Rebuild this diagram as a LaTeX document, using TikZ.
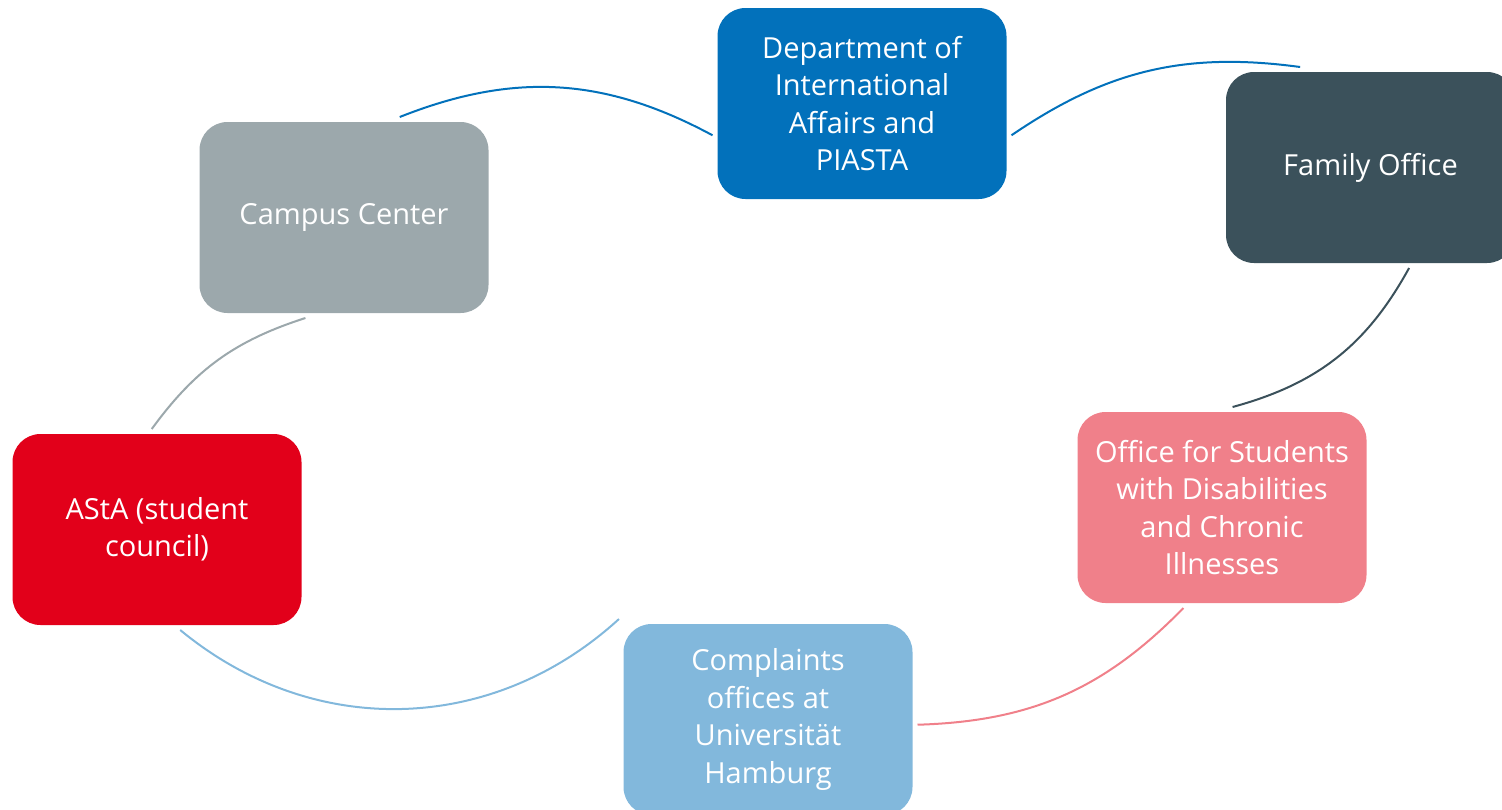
\documentclass[tikz,border=0pt]{standalone}
\usepackage{fontspec}
\setmainfont{Open Sans}
\usetikzlibrary{calc}

\definecolor{deptblue}{HTML}{0271BB}
\definecolor{familyslate}{HTML}{3B515B}
\definecolor{disabpink}{HTML}{F0808A}
\definecolor{complaintsblue}{HTML}{82B8DC}
\definecolor{astared}{HTML}{E2001A}
\definecolor{campusgray}{HTML}{9CA8AC}

\begin{document}
\begin{tikzpicture}[x=1pt, y=-1pt,
    unit/.style={rectangle, rounded corners=28pt, fill=#1, text=white,
      minimum width=289pt, minimum height=191pt, inner sep=0pt, outer sep=5pt,
      align=center, font=\fontsize{29}{37.5}\selectfont},
    link/.style={draw=#1, line width=2pt}]
    \useasboundingbox (0,0) rectangle (1502,809);
    \clip (0,0) rectangle (1502,809);

    % Offices around the cycle
    \node[unit=deptblue] (dept) at (862,103.5) {Department of\\International\\Affairs and\\PIASTA};
    \node[unit=familyslate] (family) at (1370.5,167.5) {Family Office};
    \node[unit=disabpink] (disab) at (1222,507.5) {Office for Students\\with Disabilities\\and Chronic\\Illnesses};
    \node[unit=complaintsblue] (complaints) at (768,719.5) {Complaints\\offices at\\Universität\\Hamburg};
    \node[unit=astared] (asta) at (157,529.5) {AStA (student\\council)};
    \node[unit=campusgray] (campus) at (344,217.5) {Campus Center};

    % Arcs between neighbours
    \draw[link=deptblue] (campus.61) to[bend left=25] (dept.192);
    \draw[link=deptblue] (dept.-12) to[bend left=21] (family.125);
    \draw[link=familyslate] (family.-69) to[bend left=23] (disab.84);
    \draw[link=disabpink] (disab.249) to[bend left=22] (complaints.-2);
    \draw[link=complaintsblue] (complaints.146) to[bend left=41] (asta.-77);
    \draw[link=campusgray] (asta.93) to[bend left=18] (campus.249);
\end{tikzpicture}
\end{document}
